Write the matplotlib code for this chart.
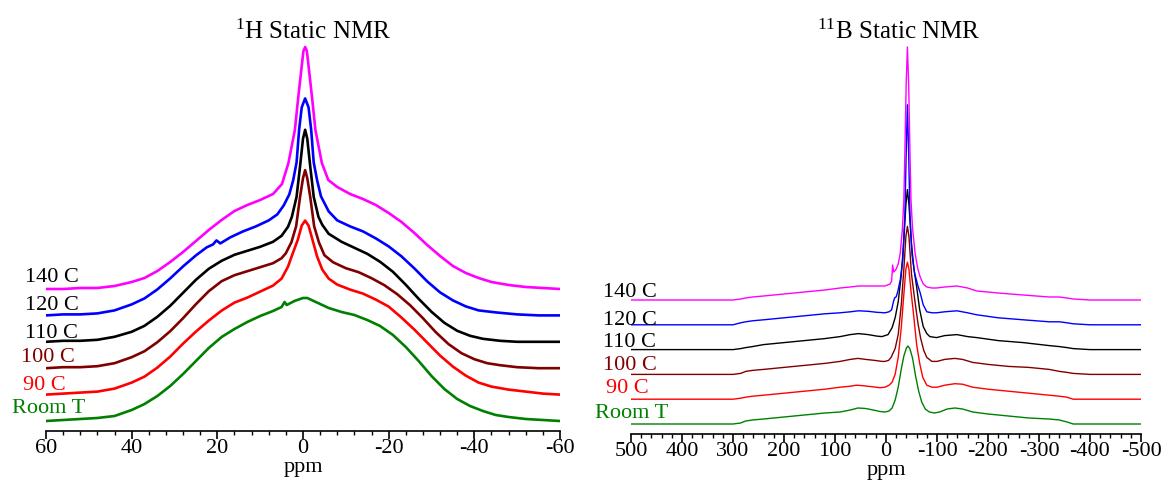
import matplotlib.pyplot as plt
from matplotlib.ticker import MultipleLocator

plt.rcParams['font.family'] = ['Liberation Serif', 'DejaVu Serif']
plt.rcParams['mathtext.fontset'] = 'custom'
plt.rcParams['mathtext.rm'] = 'Liberation Serif'
plt.rcParams['axes.unicode_minus'] = False

# ---- 1H static spectra (ppm, intensity above own baseline, a.u.) ----
labels = ['Room T', '90 C', '100 C', '110 C', '120 C', '140 C']
colors = ['#008000', '#ff0000', '#800000', '#000000', '#0000ff', '#ff00ff']

h_rt_ppm = [60, 56, 52, 48, 44, 40, 37, 34, 31, 28, 25, 22, 19, 16, 13, 10, 7, 5, 4.3, 3.8,
            2, 0, -1, -3, -6, -9, -12, -15, -18, -21, -24, -27, -30, -33, -36, -39, -42,
            -45, -48, -52, -56, -60]
h_rt_int = [0, 1, 2, 3, 5, 11, 17, 25, 35, 47, 60, 73, 84, 92, 99, 105, 110, 114, 119, 116,
            120, 123, 123, 119, 113, 109, 106, 101, 95, 86, 74, 60, 45, 32, 22, 15, 10,
            6, 4, 2, 1, 0]

h_90_ppm = [60, 56, 52, 48, 44, 40, 37, 34, 31, 28, 25, 22, 19, 16, 13, 10, 7, 5, 3.5, 2.5,
            1.2, 0.3, -0.5, -1.3, -2.2, -3.3, -4.5, -6, -8, -11, -14, -17, -20, -23, -26,
            -29, -32, -35, -38, -41, -44, -48, -52, -56, -60]
h_90_int = [0, 1, 2, 3, 6, 12, 18, 27, 38, 51, 63, 74, 84, 92, 97, 103, 109, 116, 128, 140,
            155, 169, 174, 169, 155, 138, 125, 116, 110, 105, 101, 95, 88, 77, 65,
            52, 39, 28, 19, 12, 8, 5, 3, 1, 0]

h_100_ppm = [60, 56, 52, 48, 44, 40, 37, 34, 31, 28, 25, 22, 19, 16, 13, 10, 7, 5, 4, 2.7,
             1.6, 0.7, 0, -0.5, -1, -1.7, -2.6, -3.7, -5, -7, -10, -13, -16, -19, -22,
             -25, -28, -31, -34, -37, -40, -43, -46, -50, -55, -60]
h_100_int = [0, 1, 1, 2, 5, 11, 17, 26, 37, 50, 64, 77, 87, 93, 97, 101, 105, 110, 115, 126,
             142, 171, 190, 198, 190, 171, 142, 126, 113, 106, 100, 96, 90, 83, 74,
             63, 50, 36, 24, 15, 9, 5, 3, 1, 0, 0]

h_110_ppm = [60, 56, 52, 48, 44, 40, 37, 34, 31, 28, 25, 22, 19, 16, 13, 10, 7, 5, 3.5, 2.6,
             1.5, 0.7, 0, -0.5, -1, -1.7, -2.5, -3.6, -4.5, -6, -9, -12, -15, -18, -21,
             -24, -27, -30, -33, -36, -39, -42, -46, -50, -60]
h_110_int = [0, 1, 1, 2, 5, 10, 16, 25, 36, 49, 62, 73, 81, 87, 91, 95, 100, 106, 115, 125,
             145, 175, 203, 212, 203, 175, 145, 125, 117, 108, 100, 94, 88, 80, 70,
             57, 43, 30, 19, 11, 6, 3, 1, 0, 0]

h_120_ppm = [60, 56, 52, 48, 44, 40, 37, 34, 31, 28, 25, 22.5, 21, 20.2, 19.3, 17, 14, 11, 8,
             6, 4.5, 3.2, 2.3, 1.5, 0.9, 0.3, -0.5, -1.3, -1.9, -2.5, -3.3, -4.2, -6, -8,
             -11, -14, -17, -20, -23, -26, -29, -32, -35, -38, -41, -45, -50, -55, -60]
h_120_int = [0, 1, 1, 2, 5, 11, 17, 26, 37, 49, 60, 68, 71, 75, 72, 78, 84, 89, 95,
             101, 110, 121, 135, 153, 186, 208, 217, 208, 186, 153, 135, 119, 104, 95,
             89, 84, 77, 69, 59, 47, 34, 23, 15, 9, 5, 3, 1, 0, 0]

h_140_ppm = [60, 56, 52, 48, 44, 40, 37, 34, 31, 28, 25, 22, 19, 16, 13, 10, 7, 4.9, 3.4,
             1.9, 1.1, 0.4, -0.1, -0.5, -0.9, -1.4, -2.1, -2.9, -4.4, -5.9, -8, -11, -14,
             -17, -20, -23, -26, -29, -32, -35, -38, -41, -44, -48, -52, -56, -60]
h_140_int = [0, 0, 1, 1, 3, 7, 11, 18, 27, 37, 48, 59, 69, 78, 84, 89, 95, 105, 126,
             159, 192, 219, 238, 242, 238, 219, 192, 159, 126, 109, 102, 95, 90,
             84, 76, 67, 56, 44, 33, 23, 16, 11, 7, 4, 2, 1, 0]

# ---- 11B static spectra ----
b_rt_ppm = [500, 400, 300, 285, 275, 262, 240, 200, 160, 120, 90, 70, 55, 40, 25, 12, 2, -6,
            -12, -18, -24, -30, -35, -40, -43, -47, -52, -58, -64, -70, -77, -85, -95,
            -105, -120, -135, -150, -170, -200, -240, -280, -320, -340, -355, -367, -400, -500]
b_rt_int = [0, 0, 0, 1, 3, 4, 5, 7, 9, 11, 12, 14, 16, 15.5, 14, 12.5, 12, 13,
            16, 24, 37, 55, 68, 76, 78, 75, 66, 48, 33, 22, 15, 12, 11,
            12, 15, 16, 15, 12, 10, 8, 6, 5, 4, 2, 0, 0, 0]

b_90_ppm = [500, 400, 300, 285, 275, 262, 240, 200, 160, 120, 90, 70, 58, 45, 28, 12, 2, -6,
            -12, -18, -24, -30, -35, -39, -42, -45, -49, -54, -60, -66, -72, -80, -90,
            -100, -115, -135, -150, -170, -200, -240, -280, -320, -340, -355, -367, -400, -500]
b_90_int = [0, 0, 0, 1, 2, 3, 4, 6, 8, 10, 12, 13, 14, 13.5, 12.5, 11.5, 12, 14,
            17, 25, 42, 72, 105, 130, 137, 130, 108, 85, 55, 36, 22, 14, 12,
            12, 14, 15.5, 15, 12, 10, 8, 6, 4, 3, 2, 0, 0, 0]

b_100_ppm = [500, 400, 300, 285, 275, 262, 240, 200, 160, 120, 90, 70, 55, 40, 22, 8, 2, -5,
             -10, -18, -24, -30, -35, -39, -42, -45, -50, -57, -63, -68, -74, -80, -90,
             -100, -115, -135, -150, -170, -200, -240, -280, -320, -340, -355, -367, -400, -500]
b_100_int = [0, 0, 0, 1, 3, 4, 5, 7, 9, 11, 13, 15, 16, 15, 14, 13, 13, 14,
             17, 26, 40, 70, 105, 138, 148, 138, 100, 72, 50, 36, 24, 17, 13,
             13, 15, 16, 15, 12, 10, 8, 7, 5, 3, 2, 1, 0, 0]

b_110_ppm = [500, 400, 300, 285, 275, 262, 240, 200, 160, 120, 90, 70, 54, 35, 18, 8, -4,
             -12, -18, -24, -30, -35, -39, -42, -45, -50, -55, -60, -66, -73, -80, -86,
             -99, -115, -139, -160, -178, -220, -269, -320, -340, -355, -367, -400, -500]
b_110_int = [0, 0, 0, 1, 2, 3, 5, 7, 9, 11, 13, 15, 16, 15, 13.5, 13, 15,
             22, 32, 48, 75, 110, 145, 160, 145, 105, 80, 63, 40, 23, 16, 13,
             12, 14, 15, 13, 12, 9, 7, 4, 3, 2, 1, 0, 0]

b_120_ppm = [500, 400, 300, 285, 275, 262, 240, 200, 160, 120, 90, 70, 54, 35, 18, 2, -6,
             -11, -15, -17, -20, -23, -28, -33, -37, -39.5, -42, -44.5, -47, -51, -56,
             -62, -67, -73, -80, -90, -99, -115, -139, -160, -178, -220, -269, -320,
             -340, -355, -367, -400, -500]
b_120_int = [0, 0, 0, 2, 3, 4, 5, 7, 9, 11, 12, 13, 14, 13.5, 12.5, 12, 13,
             15, 24, 27, 28, 33, 45, 65, 110, 170, 220, 170, 110, 70, 52,
             40, 32, 20, 13, 12, 12, 13, 14, 12, 10, 7, 5, 3,
             3, 2, 1, 0, 0]

b_140_ppm = [500, 400, 300, 285, 275, 262, 240, 200, 160, 120, 90, 70, 54, 35, 15, 2, -8,
             -11, -13, -15, -17, -20, -24, -28, -32, -35, -37, -39.5, -42, -44.5, -47,
             -49, -52, -57, -62, -67, -73, -80, -90, -99, -115, -139, -160, -178, -220,
             -269, -320, -340, -355, -367, -400, -500]
b_140_int = [0, 0, 0, 1, 2, 3, 4, 6, 8, 10, 12, 13, 14, 14, 14, 14, 16,
             19, 35, 28, 29, 31, 36, 47, 70, 100, 147, 215, 253, 215, 147,
             100, 72, 47, 32, 23, 16, 13, 12, 12, 13, 14, 12, 9, 7,
             5, 3, 3, 2, 1, 0, 0]

h_traces = [(h_rt_ppm, h_rt_int), (h_90_ppm, h_90_int), (h_100_ppm, h_100_int),
            (h_110_ppm, h_110_int), (h_120_ppm, h_120_int), (h_140_ppm, h_140_int)]
b_traces = [(b_rt_ppm, b_rt_int), (b_90_ppm, b_90_int), (b_100_ppm, b_100_int),
            (b_110_ppm, b_110_int), (b_120_ppm, b_120_int), (b_140_ppm, b_140_int)]

W, H = 1165, 491
fig = plt.figure(figsize=(W / 100, H / 100), dpi=100)

ax1 = fig.add_axes([46 / W, 60 / H, 514 / W, 391 / H])
ax2 = fig.add_axes([631 / W, 57 / H, 510 / W, 394 / H])

# stacked offsets (pixels above axis line)
for i, (x, y) in enumerate(h_traces):
    off = 10 + i * 26.4
    ax1.plot(x, [v + off for v in y], color=colors[i], lw=1.9)
for i, (x, y) in enumerate(b_traces):
    off = 10 + i * 24.8
    ax2.plot(x, [v + off for v in y], color=colors[i], lw=1.0)

ax1.set_xlim(60, -60)
ax1.set_ylim(0, 391)
ax2.set_xlim(500, -500)
ax2.set_ylim(0, 394)

ax1.xaxis.set_major_locator(MultipleLocator(20))
ax1.xaxis.set_minor_locator(MultipleLocator(4))
ax2.xaxis.set_major_locator(MultipleLocator(100))
ax2.xaxis.set_minor_locator(MultipleLocator(20))

for ax in (ax1, ax2):
    for s in ('left', 'right', 'top'):
        ax.spines[s].set_visible(False)
    ax.spines['bottom'].set_linewidth(1.2)
    ax.set_yticks([])
    ax.tick_params(axis='x', which='major', direction='out', length=6, width=1.2,
                   labelsize=16, pad=0)
    ax.tick_params(axis='x', which='minor', direction='out', length=3, width=1)
    ax.set_xlabel('ppm', fontsize=16, labelpad=0)

fig.text(313 / W, 1 - 39 / H, r'$\mathrm{^{1}}$H Static NMR', fontsize=18,
         ha='center', va='baseline')
fig.text(899 / W, 1 - 39 / H, r'$\mathrm{^{11}}$B Static NMR', fontsize=18,
         ha='center', va='baseline')

left_pos = [(12, 413), (23, 390), (21, 362), (25, 338), (25, 310), (25, 282)]
right_pos = [(595, 418), (606, 393), (603, 370), (603, 347), (603, 325), (603, 297)]
text_colors = ['#008000', '#ff0000', '#800000', '#000000', '#000000', '#000000']
for i, lab in enumerate(labels):
    fig.text(left_pos[i][0] / W, 1 - left_pos[i][1] / H, lab, fontsize=16,
             color=text_colors[i], ha='left', va='baseline')
    fig.text(right_pos[i][0] / W, 1 - right_pos[i][1] / H, lab, fontsize=16,
             color=text_colors[i], ha='left', va='baseline')

fig.savefig('out.png', dpi=100)
